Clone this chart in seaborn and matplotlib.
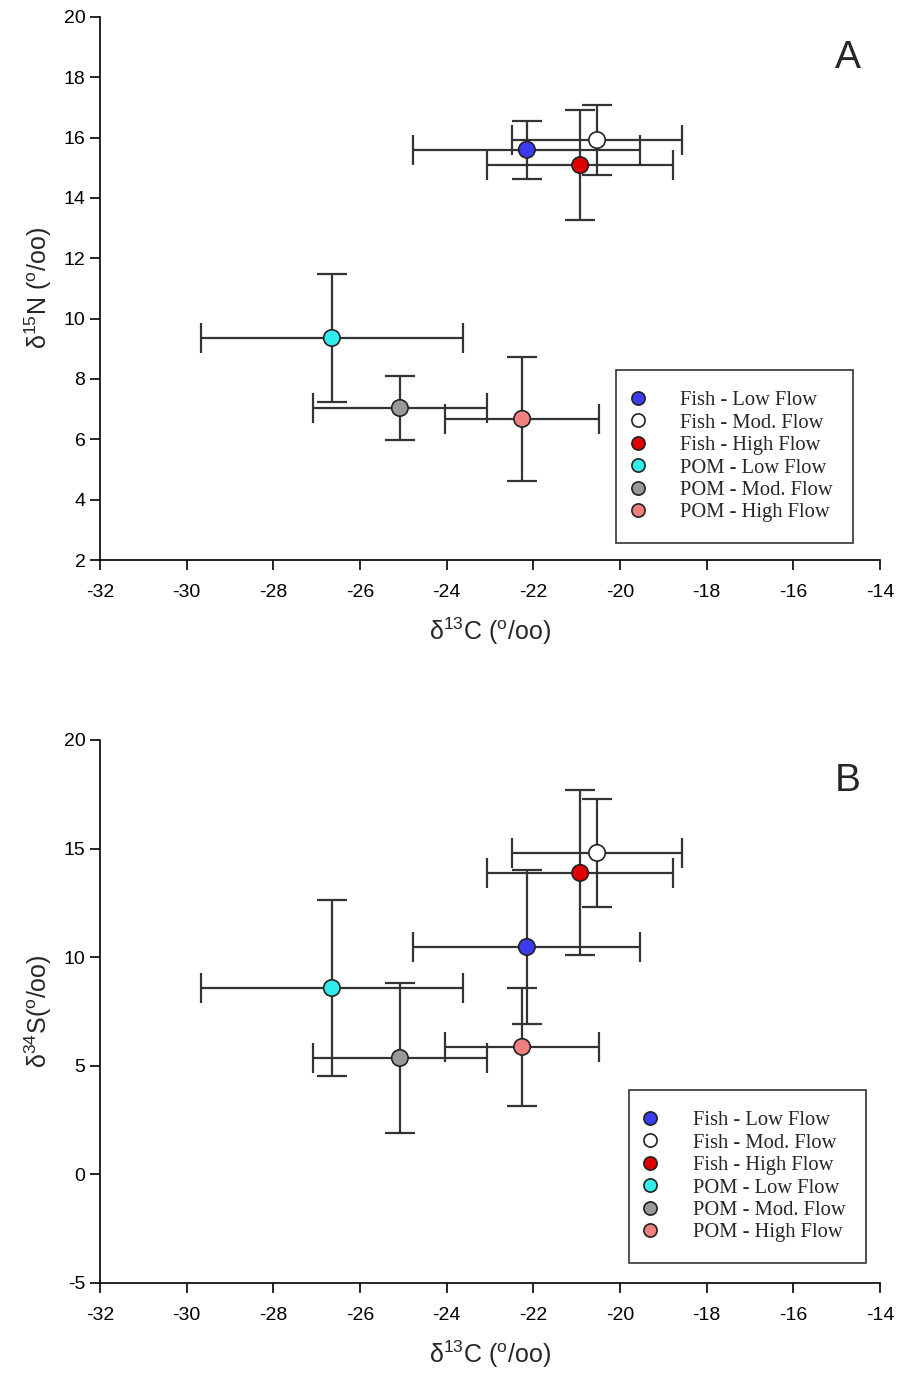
import matplotlib
matplotlib.use("Agg")
import matplotlib.pyplot as plt
import seaborn as sns
import pandas as pd
from matplotlib.lines import Line2D

sns.set_style("white")
plt.rcParams['font.family'] = ['Liberation Sans', 'DejaVu Sans']
plt.rcParams['mathtext.default'] = 'regular'
plt.rcParams['axes.unicode_minus'] = False

groups = ["Fish - Low Flow", "Fish - Mod. Flow", "Fish - High Flow",
          "POM - Low Flow", "POM - Mod. Flow", "POM - High Flow"]
colors = ["#3b3bf0", "#ffffff", "#e00000", "#33ecec", "#999999", "#f08080"]

d13C = [-22.15, -20.53, -20.92, -26.65, -25.08, -22.26]
d13C_err = [2.62, 1.97, 2.15, 3.02, 2.0, 1.77]

d15N = [15.6, 15.92, 15.09, 9.36, 7.04, 6.68]
d15N_err = [0.96, 1.16, 1.83, 2.13, 1.05, 2.05]

d34S = [10.47, 14.8, 13.88, 8.58, 5.36, 5.87]
d34S_err = [3.55, 2.47, 3.8, 4.03, 3.45, 2.72]

fig = plt.figure(figsize=(8.97, 13.8), dpi=100)
axA = fig.add_axes([0.1115, 0.5942, 0.8696, 0.3935])
axB = fig.add_axes([0.1115, 0.0703, 0.8696, 0.3935])

palette = dict(zip(groups, colors))


def panel(ax, yvals, yerr, ylim, yticks, ylabel, letter, legend_box):
    df = pd.DataFrame({"x": d13C, "y": yvals, "g": groups})
    ax.errorbar(d13C, yvals, xerr=d13C_err, yerr=yerr, fmt='none',
                ecolor='#333333', elinewidth=1.6, capsize=11, capthick=1.6, zorder=2)
    sns.scatterplot(data=df, x="x", y="y", hue="g", palette=palette, ax=ax,
                    s=140, edgecolor='#222222', linewidth=1.2, zorder=3, legend=False)
    ax.set_xlim(-32, -14)
    ax.set_xticks(range(-32, -13, 2))
    ax.set_ylim(*ylim)
    ax.set_yticks(yticks)
    for s in ['top', 'right']:
        ax.spines[s].set_visible(False)
    for s in ['left', 'bottom']:
        ax.spines[s].set_color('black')
        ax.spines[s].set_linewidth(1.2)
    ax.tick_params(axis='both', direction='out', length=7, width=1.2,
                   labelsize=14, colors='black', left=True, bottom=True)
    ax.tick_params(axis='x', pad=10)
    ax.set_xlabel("δ$^{13}$C ($^{o}$/oo)", fontsize=18, labelpad=11)
    ax.set_ylabel(ylabel, fontsize=18, labelpad=7)
    ax.text(0.975, 0.958, letter, transform=ax.transAxes, fontsize=28,
            ha='right', va='top')
    handles = [Line2D([0], [0], marker='o', linestyle='none', markersize=9.5,
                      markerfacecolor=c, markeredgecolor='#222222', markeredgewidth=1.2)
               for c in colors]
    leg = ax.legend(handles, groups, loc='lower left', bbox_to_anchor=legend_box,
                    mode='expand',
                    prop={'family': 'Liberation Serif', 'size': 14.8},
                    frameon=True, fancybox=False, edgecolor='black',
                    borderpad=1.0, labelspacing=0.15, handlelength=0.1,
                    handletextpad=2.0, borderaxespad=0)
    leg.get_frame().set_linewidth(1.2)


panel(axA, d15N, d15N_err, (2, 20), range(2, 21, 2),
      "δ$^{15}$N ($^{o}$/oo)", "A", (0.6615, 0.0313, 0.3038, 0.2))
panel(axB, d34S, d34S_err, (-5, 20), range(-5, 21, 5),
      "δ$^{34}$S($^{o}$/oo)", "B", (0.678, 0.0368, 0.3038, 0.2))

fig.savefig("out.png", dpi=100)
